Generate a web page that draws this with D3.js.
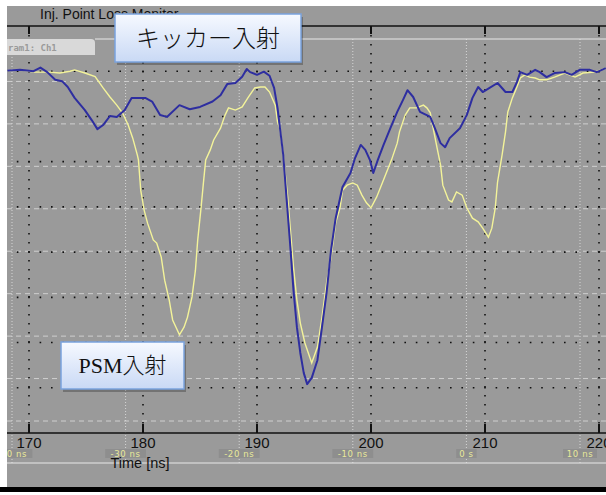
<!DOCTYPE html>
<html>
<head>
<meta charset="utf-8">
<title>Inj. Point Loss Monitor | D3</title>
<style>
    body { margin: 0; background: #fff; }
    svg { display: block; }
</style>
<script src="https://d3js.org/d3.v7.min.js" charset="utf-8"></script>
</head>
<body>
<script>
// values: time [ns] and signal [div, 0 = top line]
var kickerT = [168.1,169.2,170.4,171.0,171.6,172.3,172.9,173.4,174.0,174.9,175.5,176.0,176.5,177.1,177.7,178.4,179.0,179.7,180.2,180.8,181.5,182.1,183.2,184.1,185.0,186.1,186.8,187.4,188.1,188.7,189.1,189.4,190.0,190.6,191.1,191.5,191.8,192.0,192.3,192.6,192.9,193.2,193.5,193.8,194.1,194.4,194.8,195.3,195.7,196.1,196.5,196.9,197.5,198.2,198.6,199.1,199.5,199.9,200.2,200.6,201.1,201.7,202.3,202.8,203.2,203.7,204.3,205.2,205.6,206.1,206.5,206.9,207.8,208.4,208.9,209.4,209.8,210.4,211.1,211.8,212.4,212.8,213.1,213.7,214.4,214.8,215.4,216.1,217.0,217.6,218.3,219.2,219.8,220.6];
var kickerV = [-0.99,-0.97,-1.0,-0.92,-1.02,-1.19,-1.22,-1.35,-1.59,-1.86,-2.08,-2.28,-2.19,-1.99,-2.01,-1.86,-1.59,-1.59,-1.59,-1.67,-1.97,-2.01,-1.75,-1.84,-1.79,-1.67,-1.53,-1.28,-1.26,-1.12,-0.95,-1.02,-1.08,-1.01,-1.10,-1.37,-1.81,-2.23,-2.85,-3.83,-4.80,-5.84,-6.66,-7.23,-7.67,-7.92,-7.78,-7.39,-6.66,-5.90,-4.95,-4.25,-3.56,-3.25,-2.92,-2.63,-2.74,-2.96,-3.25,-2.96,-2.63,-2.26,-1.90,-1.64,-1.42,-1.57,-1.90,-2.01,-2.26,-2.59,-2.68,-2.48,-2.26,-1.97,-1.59,-1.35,-1.46,-1.37,-1.26,-1.46,-1.46,-1.24,-1.02,-1.08,-0.97,-1.02,-1.13,-1.04,-1.02,-1.08,-0.97,-0.97,-1.02,-0.93];

var psmT = [168.1,169.2,170.5,171.8,172.7,173.6,174.0,174.9,175.8,176.5,177.1,177.7,178.2,178.7,179.1,179.5,179.6,179.8,180.1,180.4,180.9,181.2,181.6,181.9,182.3,182.6,183.2,183.6,183.9,184.3,184.6,184.8,185.1,185.3,185.5,185.9,186.2,186.8,187.2,187.5,188.1,188.7,189.2,189.8,190.3,190.7,191.1,191.6,191.8,192.0,192.3,192.7,193.2,193.5,193.8,194.2,194.8,195.3,195.7,196.1,196.5,196.9,197.3,197.5,197.9,198.4,198.8,199.2,199.6,200.0,200.5,201.2,201.8,202.3,202.5,203.0,203.4,204.0,204.6,204.9,205.2,205.4,205.8,206.1,206.3,206.8,207.1,207.5,208.0,208.4,208.9,209.4,209.8,210.3,210.6,210.9,211.1,211.5,211.8,212.0,212.4,212.8,213.1,213.5,213.9,214.4,214.8,215.4,216.1,217.0,217.9,218.6,219.6,220.6];
var psmV = [-1.0,-0.97,-1.02,-1.02,-1.04,-1.0,-0.97,-1.04,-1.12,-1.37,-1.57,-1.75,-1.92,-2.19,-2.48,-2.85,-2.96,-3.63,-4.07,-4.36,-4.73,-4.80,-5.11,-5.62,-6.06,-6.50,-6.83,-6.66,-6.44,-5.99,-5.40,-4.73,-4.00,-3.47,-2.96,-2.74,-2.52,-2.26,-1.97,-1.81,-1.86,-1.79,-1.59,-1.37,-1.35,-1.35,-1.46,-1.75,-2.12,-2.26,-2.85,-3.80,-5.33,-6.06,-6.57,-7.01,-7.45,-7.10,-6.44,-5.68,-5.11,-4.36,-4.00,-3.63,-3.52,-3.47,-3.52,-3.74,-3.91,-4.02,-3.78,-3.34,-2.96,-2.59,-2.34,-1.97,-1.81,-1.81,-1.75,-1.81,-1.92,-2.19,-2.70,-3.07,-3.52,-3.85,-3.89,-3.67,-3.74,-4.02,-4.25,-4.33,-4.47,-4.67,-4.47,-4.02,-3.45,-2.85,-2.34,-1.90,-1.59,-1.35,-1.15,-1.08,-1.13,-1.15,-1.19,-1.19,-1.13,-1.04,-1.13,-1.04,-1.02,-0.93];

var timeTicks = [170,180,190,200,210,220];
var relTicks = [-40,-30,-20,-10,0,10];
var relLabels = ["-40 ns","-30 ns","-20 ns","-10 ns","0 s","10 ns"];
var legendKicker = "キッカー入射";
var legendPsm = "PSM入射";

var width = 606, height = 495;

var svg = d3.select("body").append("svg")
    .attr("width", width)
    .attr("height", height);

// scope background
svg.append("rect").attr("width", width).attr("height", height).attr("fill", "#fff");
svg.append("rect").attr("x", 7).attr("y", 6).attr("width", width - 7).attr("height", 481).attr("fill", "#9a9a9a");
svg.append("rect").attr("x", 0).attr("y", 487).attr("width", width).attr("height", 5).attr("fill", "#000");

var x = d3.scaleLinear().domain([170, 220]).range([29, 599]);
var xRel = d3.scaleLinear().domain([-40, 10]).range([12, 580]);
var y = d3.scaleLinear().domain([-9, 0]).range([433, 26]);
var yW = d3.scaleLinear().domain([0, 9]).range([39, 421]);

svg.append("defs").append("clipPath").attr("id", "plot")
    .append("rect").attr("x", 7).attr("y", 26).attr("width", width - 7).attr("height", 407);

// white dashed grid (second scale)
var gw = svg.append("g");
gw.selectAll("line.h")
    .data(d3.range(1, 10))
    .enter().append("line")
    .attr("x1", 7).attr("x2", width)
    .attr("y1", d => yW(d)).attr("y2", d => yW(d))
    .attr("stroke", "#cfcfcf").attr("stroke-width", 1)
    .attr("stroke-dasharray", "5,4");
gw.selectAll("line.v")
    .data(relTicks)
    .enter().append("line")
    .attr("x1", d => xRel(d)).attr("x2", d => xRel(d))
    .attr("y1", 39).attr("y2", 463)
    .attr("stroke", "#d6d6d6").attr("stroke-width", 1)
    .attr("stroke-dasharray", "1,2");

// black dotted grid
var gb = svg.append("g");
gb.selectAll("line.h")
    .data(d3.range(-8, 0))
    .enter().append("line")
    .attr("x1", 7).attr("x2", width)
    .attr("y1", d => y(d)).attr("y2", d => y(d))
    .attr("stroke", "#111").attr("stroke-width", 1.6)
    .attr("stroke-dasharray", "1.6,9.8")
    .attr("stroke-dashoffset", -((29 - 7) % 11.4) + 0.8);
gb.selectAll("line.v")
    .data(timeTicks)
    .enter().append("line")
    .attr("x1", d => x(d)).attr("x2", d => x(d))
    .attr("y1", 26).attr("y2", 433)
    .attr("stroke", "#111").attr("stroke-width", 1.6)
    .attr("stroke-dasharray", "1.6,7.4");

// axis lines and ticks
svg.append("line").attr("x1", 7).attr("x2", width).attr("y1", 26).attr("y2", 26)
    .attr("stroke", "#111").attr("stroke-width", 1.5);
svg.append("line").attr("x1", 7).attr("x2", width).attr("y1", 433).attr("y2", 433)
    .attr("stroke", "#111").attr("stroke-width", 1.5);
svg.append("line").attr("x1", 95).attr("x2", width).attr("y1", 39).attr("y2", 39)
    .attr("stroke", "#e8e8e8").attr("stroke-width", 1);
svg.append("line").attr("x1", 7).attr("x2", width).attr("y1", 463).attr("y2", 463)
    .attr("stroke", "#e8e8e8").attr("stroke-width", 1);

svg.selectAll("line.tickTop")
    .data(timeTicks).enter().append("line")
    .attr("x1", d => x(d)).attr("x2", d => x(d))
    .attr("y1", 26).attr("y2", 34)
    .attr("stroke", "#111").attr("stroke-width", 2);
svg.selectAll("line.tickBot")
    .data(timeTicks).enter().append("line")
    .attr("x1", d => x(d)).attr("x2", d => x(d))
    .attr("y1", 424).attr("y2", 433)
    .attr("stroke", "#111").attr("stroke-width", 2);

// traces
var line = d3.line().x(d => x(d[0])).y(d => y(d[1]));
var traces = svg.append("g").attr("clip-path", "url(#plot)");
traces.append("path")
    .datum(d3.zip(psmT, psmV))
    .attr("fill", "none").attr("stroke", "#f3f39a").attr("stroke-width", 1.4)
    .attr("d", line);
traces.append("path")
    .datum(d3.zip(kickerT, kickerV))
    .attr("fill", "none").attr("stroke", "#2e2ea0").attr("stroke-width", 2)
    .attr("stroke-linejoin", "round")
    .attr("d", line);

// tick labels
svg.selectAll("text.tl")
    .data(timeTicks).enter().append("text")
    .attr("x", d => x(d)).attr("y", 448)
    .attr("text-anchor", "middle")
    .attr("font-family", "Liberation Sans, Arial, sans-serif")
    .attr("font-size", 15)
    .attr("fill", "#111")
    .text(d => d);

var rel = svg.append("g").selectAll("g")
    .data(relTicks).enter().append("g")
    .attr("transform", d => "translate(" + xRel(d) + ",0)");
rel.append("rect")
    .attr("x", (d, i) => -(relLabels[i].length * 3.4))
    .attr("y", 449).attr("height", 9)
    .attr("width", (d, i) => relLabels[i].length * 6.8)
    .attr("fill", "#8e8e8e");
rel.append("text")
    .attr("y", 456.5)
    .attr("text-anchor", "middle")
    .attr("font-family", "DejaVu Sans, sans-serif")
    .attr("font-size", 8.5)
    .attr("letter-spacing", 0.6)
    .attr("fill", "#e9e99a")
    .text((d, i) => relLabels[i]);

svg.append("text")
    .attr("x", 140).attr("y", 468)
    .attr("text-anchor", "middle")
    .attr("font-family", "Liberation Sans, Arial, sans-serif")
    .attr("font-size", 14.5)
    .attr("fill", "#111")
    .text("Time [ns]");

// white page margin over the left edge of the screen grab
svg.append("rect").attr("x", 0).attr("y", 0).attr("width", 7).attr("height", 487).attr("fill", "#fff");

// title
svg.append("text")
    .attr("x", 40).attr("y", 19)
    .attr("font-family", "Liberation Sans, Arial, sans-serif")
    .attr("font-size", 14)
    .attr("fill", "#111")
    .text("Inj. Point Loss Monitor");
svg.append("rect").attr("x", 0).attr("y", 0).attr("width", width).attr("height", 6).attr("fill", "#fff");

// channel tab
svg.append("path")
    .attr("d", "M7,39 H91 Q95,39 95,43 V55 H7 Z")
    .attr("fill", "#d9d9d9");
svg.append("text")
    .attr("x", 8).attr("y", 51)
    .attr("font-family", "DejaVu Sans Mono, monospace")
    .attr("font-weight", "bold")
    .attr("font-size", 9)
    .attr("fill", "#9a9a9a")
    .text("ram1: Ch1");

// legend callouts
var grad = svg.select("defs").append("linearGradient")
    .attr("id", "boxfill").attr("x1", 0).attr("x2", 0).attr("y1", 0).attr("y2", 1);
grad.append("stop").attr("offset", "0%").attr("stop-color", "#f6f9ff");
grad.append("stop").attr("offset", "100%").attr("stop-color", "#c9d9f5");

function callout(bx, by, bw, bh, label, fs) {
    svg.append("rect")
        .attr("x", bx + 2).attr("y", by + 3).attr("width", bw).attr("height", bh)
        .attr("fill", "#000").attr("opacity", 0.25);
    svg.append("rect")
        .attr("x", bx).attr("y", by).attr("width", bw).attr("height", bh)
        .attr("fill", "url(#boxfill)")
        .attr("stroke", "#7aa3de").attr("stroke-width", 1.5);
    svg.append("text")
        .attr("x", bx + bw / 2).attr("y", by + bh / 2 + fs * 0.36)
        .attr("text-anchor", "middle")
        .attr("font-family", "Liberation Serif, 'Noto Sans CJK JP', serif")
        .attr("font-weight", 300)
        .attr("font-size", fs)
        .attr("fill", "#111")
        .text(label);
}
callout(115, 14, 186, 48, legendKicker, 24);
callout(61, 342, 123, 47, legendPsm, 22);
</script>
</body>
</html>
